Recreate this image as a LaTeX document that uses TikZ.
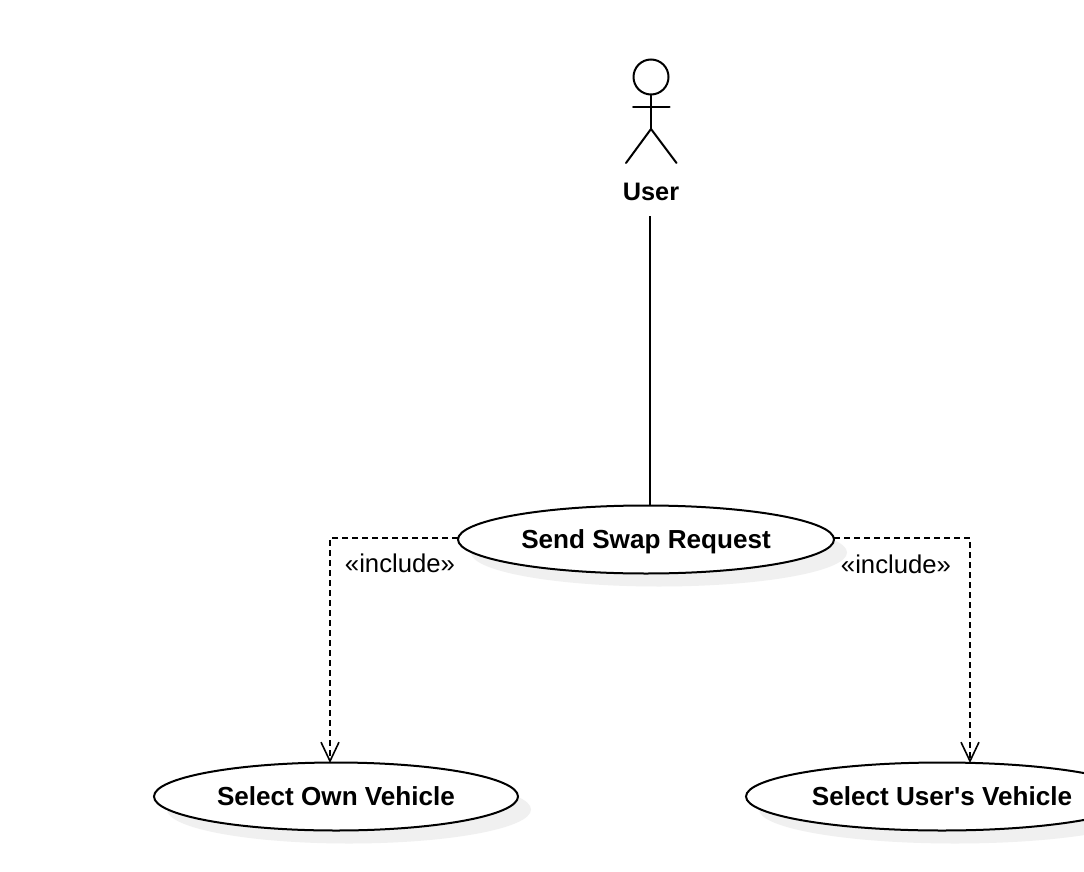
\documentclass[tikz,border=0pt]{standalone}
\usepackage{fontspec}
\setmainfont{Liberation Sans}
\newfontfamily\nomapfont{Liberation Sans}
\usetikzlibrary{shapes.geometric,shadows,arrows.meta}
\definecolor{shadowgrey}{HTML}{F0F0F0}
\tikzset{
  usecase/.style={draw=black,line width=2pt,ellipse,fill=white,inner sep=0pt,
    minimum height=68pt,text depth=0pt,font=\fontsize{26.1}{30}\selectfont\bfseries,
    drop shadow={shadow xshift=13pt,shadow yshift=-13pt,fill=shadowgrey,opacity=1}},
  actorline/.style={line width=2pt,line cap=round},
  assoc/.style={line width=2pt},
  incl/.style={line width=2pt,dash pattern=on 6pt off 4pt,-{Straight Barb[length=19pt,width=18pt,line width=1.6pt]}},
  incllabel/.style={inner sep=0pt,font=\fontsize{25.7}{30}\selectfont},
  actorname/.style={inner sep=0pt,font=\fontsize{25.3}{30}\selectfont\bfseries}
}
\begin{document}
\begin{tikzpicture}[x=1pt,y=-1pt]
\clip (0,0) rectangle (1084,872);
\fill[white] (0,0) rectangle (1084,872);
% actor
\node[circle,draw=black,line width=2pt,minimum size=35pt,inner sep=0pt] (head) at (651,77) {};
\coordinate (hip) at (651,129);
\coordinate (armL) at (633,107);
\coordinate (armR) at (669.5,107);
\coordinate (footL) at (626,163);
\coordinate (footR) at (676.5,163);
\draw[actorline] (head.south) -- (hip);
\draw[actorline] (armL) -- (armR);
\draw[actorline] (footL) -- (hip) -- (footR);
\node[actorname] (user) at (651,191.5) {User};
% use cases
\node[usecase,minimum width=376pt] (send) at (646,539.5) {Send Swap Request};
\node[usecase,minimum width=364pt] (own) at (336,796.5) {Select Own Vehicle};
\node[usecase,minimum width=392pt] (vehicle) at (942,796.5) {Select User{\nomapfont'}s Vehicle};
% connectors
\coordinate (userfoot) at (650,216);
\coordinate (ownin) at (330,763);
\coordinate (vehin) at (970,763);
\coordinate (sendL) at (458,538);
\coordinate (sendR) at (834,538);
\draw[assoc] (userfoot) -- (userfoot |- send.north);
\draw[incl] (sendL) -| (ownin);
\draw[incl] (sendR) -| (vehin);
\node[incllabel] (l1) at (400,563.5) {«include»};
\node[incllabel] (l2) at (896,564.5) {«include»};
\end{tikzpicture}
\end{document}
